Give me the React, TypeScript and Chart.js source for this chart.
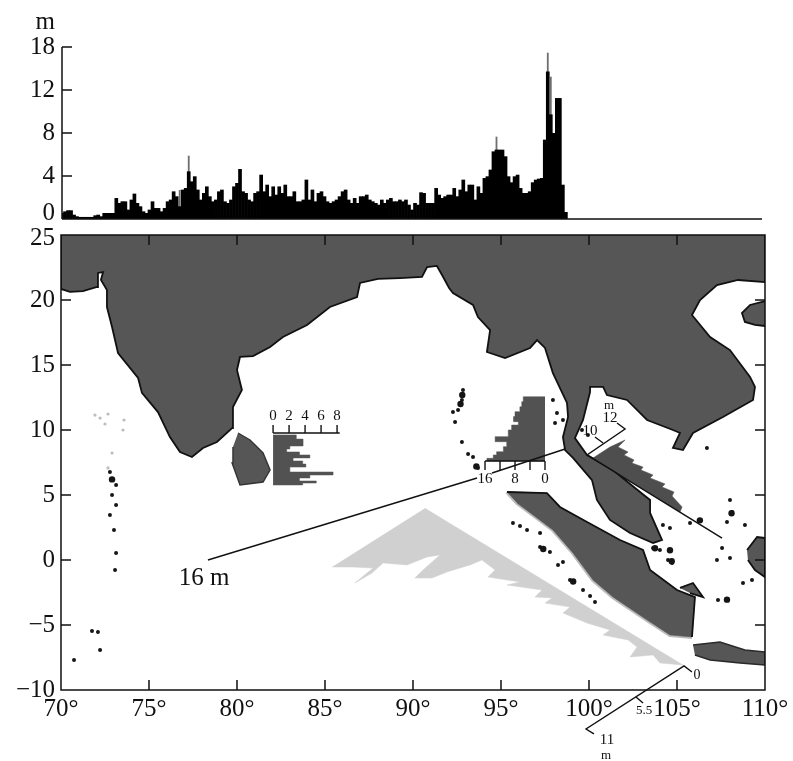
import React, { useEffect, useRef } from "react";
import { Chart, registerables } from "chart.js";

Chart.register(...registerables);

const FONT = "'Liberation Serif'";
const INK = "#111111";
const LAND = "#565656";

// ---- top profile: wave height along the longitude (tick 16 on the value scale is labelled 18)
const profileHeights = [
  0.53, 0.68, 0.78, 0.78, 0.37, 0.22, 0.16, 0.16, 0.16, 0.16,
  0.16, 0.31, 0.37, 0.22, 0.53, 0.53, 0.53, 0.53, 1.92, 1.46,
  1.61, 1.61, 0.84, 1.77, 2.33, 1.46, 1.15, 0.68, 0.53, 0.84,
  1.61, 0.99, 0.99, 0.68, 0.99, 1.61, 1.77, 2.54, 2.08, 1.15,
  2.7, 2.85, 4.4, 3.47, 3.94, 2.7, 1.77, 2.39, 3.0, 2.08,
  1.61, 1.77, 2.54, 2.7, 1.61, 1.46, 1.77, 3.0, 3.32, 4.62,
  2.54, 2.39, 1.77, 1.61, 2.39, 2.54, 4.09, 2.54, 3.16, 2.08,
  3.0, 2.23, 3.0, 2.39, 3.16, 2.08, 2.08, 2.54, 1.61, 1.61,
  1.77, 3.63, 1.77, 2.7, 1.61, 2.39, 2.54, 2.08, 1.61, 1.46,
  1.61, 1.77, 2.08, 2.54, 2.7, 1.77, 1.46, 1.92, 1.46, 2.08,
  2.08, 2.23, 1.77, 1.61, 1.46, 1.3, 1.77, 1.46, 1.77, 1.92,
  1.61, 1.61, 1.77,
  1.61, 1.77, 1.3, 0.84, 1.46, 1.3, 2.45, 2.39, 1.46, 1.46,
  1.46, 2.85, 2.23, 1.92, 2.08, 2.23, 2.23, 2.85, 2.08, 2.7,
  3.63, 2.54, 3.16, 3.16, 1.77, 3.0, 2.39, 3.78, 3.94, 4.56,
  6.26, 6.42, 6.42, 6.42, 5.8, 3.94, 3.38, 3.94, 4.09, 2.85,
  2.39, 2.39, 2.54, 3.38, 3.63, 3.72, 3.78, 7.35, 13.7, 9.7,
  7.97, 11.22, 11.22, 3.16, 0.62,
];
const spikeIndex = [39, 42, 144, 161, 162];
const spikeHeights = [2.7, 5.89, 7.66, 15.47, 13.24];
const profileTickValues = [0, 4, 8, 12, 16];
const profileTickLabels = ["0", "4", "8", "12", "18"];
const PROFILE_BINS = 233;

// ---- map land masses (lon / lat)
const mainlandLon = [70, 70, 70.51, 71.25, 72.05, 72.1, 72.39, 72.27, 72.61, 72.61, 72.9, 73.24, 74.38, 74.6, 75.51, 76.19, 76.76, 77.44, 78.07, 78.86, 79.72, 79.77, 80.28, 80.0, 80.17, 80.91, 81.88, 82.61, 83.98, 85.28, 86.82, 86.99, 88.01, 89.26, 90.51, 90.8, 91.36, 91.65, 92.05, 92.27, 93.41, 93.69, 94.38, 94.2, 95.23, 96.65, 97.05, 97.5, 97.95, 98.75, 98.81, 98.52, 98.64, 99.09, 100.17, 100.45, 101.19, 102.33, 103.64, 104.15, 103.47, 103.47, 102.9, 101.36, 99.89, 99.2, 99.66, 100.06, 100.06, 100.8, 101.02, 102.16, 103.3, 104.77, 105.17, 104.77, 105.34, 105.91, 107.61, 109.32, 109.43, 109.15, 108.01, 106.88, 105.85, 106.31, 107.27, 108.47, 110, 110];
const mainlandLat = [25, 20.85, 20.62, 20.69, 21.0, 22.08, 22.15, 21.54, 20.77, 19.46, 17.92, 15.92, 14.0, 12.85, 11.38, 9.46, 8.31, 7.92, 8.62, 9.08, 10.15, 11.77, 13.08, 14.62, 15.62, 15.69, 16.38, 17.15, 18.08, 19.46, 20.23, 21.31, 21.62, 21.69, 21.77, 22.54, 22.62, 21.92, 20.92, 20.54, 19.62, 18.69, 17.69, 16.0, 15.54, 16.31, 16.92, 16.31, 14.38, 12.08, 11.0, 9.46, 8.46, 7.85, 6.15, 4.62, 3.08, 2.08, 1.31, 1.54, 3.62, 4.62, 5.23, 6.92, 8.08, 9.38, 10.77, 12.92, 13.31, 13.31, 12.69, 12.31, 10.77, 10.0, 9.77, 8.62, 8.46, 9.77, 11.0, 12.31, 13.31, 14.08, 16.15, 17.15, 18.85, 20.0, 21.15, 21.54, 21.38, 25];
const sumatraLon = [95.34, 97.61, 98.35, 99.89, 101.76, 103.07, 103.47, 105.0, 106.02, 105.85, 104.6, 103.3, 101.36, 100.23, 99.09, 97.95, 96.82, 95.91];
const sumatraLat = [5.23, 5.15, 4.08, 2.92, 1.54, 0.77, -0.77, -2.31, -2.85, -5.92, -5.77, -4.62, -2.85, -1.54, 0.54, 2.31, 3.46, 4.38];
const SUMATRA_NE_END = 10;
const javaLon = [105.91, 107.44, 108.86, 110, 110, 108.58, 106.88, 106.02];
const javaLat = [-6.54, -6.31, -6.92, -7.08, -8.08, -7.92, -7.69, -7.31];
const sriLankaLon = [80.06, 80.74, 81.48, 81.88, 81.48, 80.17, 79.72, 79.77];
const sriLankaLat = [9.77, 9.23, 8.23, 6.92, 6.0, 5.77, 7.46, 8.69];
const hainanLon = [110, 109.15, 108.69, 108.86, 109.43, 110];
const hainanLat = [19.92, 19.62, 19.0, 18.31, 18.08, 18.0];
const borneoLon = [108.98, 109.55, 110, 110, 109.43, 109.03];
const borneoLat = [0.77, 1.77, 1.69, -1.31, -0.77, 0];
const bangkaLon = [105.17, 105.91, 106.48, 105.74];
const bangkaLat = [-2.15, -1.77, -2.85, -2.54];

// ---- small islands
const islandLon = [92.84, 92.78, 92.56, 92.27, 92.39, 92.78, 93.13, 93.41, 93.69, 97.95, 98.18, 98.07, 98.52, 99.6, 99.94, 106.7, 108.13, 108.01, 106.31, 105.74, 107.84, 108.86, 107.56, 107.27, 108.01, 104.2, 104.6, 103.64, 104.03, 104.6, 104.49, 104.72, 107.84, 107.33, 108.75, 109.26, 95.68, 96.08, 96.48, 97.22, 97.78, 97.22, 98.52, 98.24, 98.92, 99.66, 100.06, 100.34, 72.78, 72.9, 73.13, 72.9, 73.13, 72.78, 73.01, 73.13, 73.07, 71.76, 72.1, 70.74, 72.22];
const islandLat = [13.08, 12.31, 11.54, 11.38, 10.62, 9.08, 8.15, 7.92, 7.08, 12.31, 11.31, 10.54, 10.77, 10.0, 9.62, 8.62, 3.69, 4.62, 3.08, 2.85, 2.92, 2.69, 0.92, 0, 0.15, 2.69, 2.46, 0.92, 0.77, 0.77, 0, -0.23, -3.08, -3.08, -1.77, -1.54, 2.85, 2.62, 2.31, 1.0, 0.62, 2.08, -0.15, -0.38, -1.54, -2.31, -2.77, -3.23, 6.77, 6.15, 5.77, 5.0, 4.23, 3.46, 2.31, 0.54, -0.77, -5.46, -5.54, -7.7, -6.92];
const largeIslandLon = [92.8, 92.7, 93.6, 103.75, 104.6, 104.7, 107.84, 106.3, 108.1, 97.4, 99.1, 72.9];
const largeIslandLat = [12.7, 12.0, 7.2, 0.9, 0.75, -0.1, -3.05, 3.05, 3.6, 0.85, -1.65, 6.2];
const faintIslandLon = [71.93, 72.22, 72.67, 73.58, 72.5, 73.52, 72.9, 72.67];
const faintIslandLat = [11.15, 10.92, 11.23, 10.77, 10.46, 10.0, 8.23, 7.08];

// ---- projected profiles on the map
const oceanShadowLon = [90.68, 105.34, 104.03, 103.64, 102.33, 102.73, 102.22, 100.8, 101.19, 99.89, 98.52, 98.92, 97.5, 97.9, 96.93, 97.33, 95.34, 96.08, 94.26, 94.66, 93.92, 93.24, 91.93, 91.08, 90.11, 90.57, 91.53, 90.8, 89.66, 88.3, 87.67, 86.7, 87.73, 86.59, 85.4];
const oceanShadowLat = [3.98, -8.08, -7.92, -7.31, -7.46, -6.69, -6.15, -5.77, -5.38, -4.85, -4.08, -3.62, -3.31, -2.92, -2.85, -2.31, -1.92, -1.69, -1.31, -0.77, 0.0, -0.38, -0.92, -1.38, -1.38, -0.77, 0.38, 0.23, -0.38, -0.23, -1.0, -1.77, -0.62, -0.54, -0.54];
const gulfLon = [100.23, 101.19, 102.05, 101.65, 102.22, 101.99, 102.56, 102.44, 103.07, 102.95, 103.64, 103.47, 104.32, 104.15, 104.83, 104.72, 105.29, 105.17];
const gulfLat = [7.85, 8.69, 9.23, 8.69, 8.31, 8.08, 7.69, 7.46, 7.15, 6.92, 6.54, 6.31, 5.85, 5.62, 5.23, 4.92, 4.08, 3.69];

const sriInsetLat = [9.62, 9.3, 8.77, 8.54, 8.31, 8.08, 7.85, 7.62, 7.38, 7.15, 6.77, 6.54, 6.31, 6.08, 5.92, 5.77];
const sriInsetHeight = [2.9, 3.75, 2.1, 1.7, 3.3, 4.6, 2.5, 3.7, 4.1, 2.1, 7.5, 4.6, 3.3, 5.4, 3.7, 1.7];
const sriInsetTicks = [0, 2, 4, 6, 8];

const malaccaInsetLat = [12.56, 12.18, 11.79, 11.41, 11.03, 10.64, 10.38, 10.0, 9.49, 9.1, 8.72, 8.33, 8.08, 7.82];
const malaccaInsetHeight = [5.8, 6.2, 6.7, 8.0, 8.4, 7.1, 8.9, 9.8, 13.3, 10.2, 11.1, 12.9, 13.8, 15.5];
const malaccaInsetTicks = [0, 4, 8, 12, 16];
const malaccaInsetLabels = [16, 8, 0];

// ---- leader lines and oblique scales (lon, lat)
const leaderOneLon = [78.35, 93.64];
const leaderOneLat = [0.0, 6.31];
const leaderTwoLon = [94.49, 98.64];
const leaderTwoLat = [6.69, 8.54];
const gulfAxisLon = [107.56, 99.89, 102.05, 101.59];
const gulfAxisLat = [1.69, 8.08, 10.08, 10.54];
const gulfTickLon = [100.8, 100.34];
const gulfTickLat = [9.0, 9.46];
const shadowAxisLon = [105.85, 105.4, 99.83, 100.28];
const shadowAxisLat = [-8.62, -8.15, -13.0, -13.38];
const shadowTickLon = [102.67, 103.07];
const shadowTickLat = [-10.54, -11.0];

// ---- map annotations
const noteTexts = ["16 m", "m", "12", "10", "0", "5.5", "11", "m"];
const noteLon = [78.13, 101.14, 101.2, 100.06, 106.14, 103.13, 101.02, 100.97];
const noteLat = [-1.39, 11.85, 10.92, 9.93, -8.85, -11.62, -13.85, -15.08];
const noteSizes = [25, 13, 15, 15, 14, 13, 15, 13];

// Placement of the inset scales on the map
const SRI_BASE_LON = 82.05;
const SRI_LON_PER_M = 0.4545;
const SRI_AXIS_LAT = 9.77;
const SRI_TICK_LAT = 10.38;
const SRI_LABEL_LAT = 11.08;
const MAL_BASE_LON = 97.5;
const MAL_LON_PER_M = 0.213;
const MAL_AXIS_LAT = 7.62;
const MAL_TICK_LAT = 6.92;
const MAL_LABEL_LAT = 6.23;

const zip = (xs: number[], ys: number[]) => xs.map((x, i) => ({ x, y: ys[i] }));

const land = (xs: number[], ys: number[], stroke = "#111111", width = 1.8) => ({
  type: "scatter" as const,
  data: zip(xs, ys),
  showLine: true,
  fill: "shape",
  backgroundColor: LAND,
  borderColor: stroke,
  borderWidth: width,
  pointRadius: 0,
  tension: 0,
});

const shape = (pts: { x: number; y: number }[], color: string, stepped: any = false) => ({
  type: "scatter" as const,
  data: pts,
  showLine: true,
  fill: "shape",
  backgroundColor: color,
  borderColor: color,
  borderWidth: 0.5,
  pointRadius: 0,
  tension: 0,
  stepped,
});

const wire = (pts: { x: number; y: number }[], color = INK, width = 1.4) => ({
  type: "scatter" as const,
  data: pts,
  showLine: true,
  fill: false,
  borderColor: color,
  borderWidth: width,
  pointRadius: 0,
  tension: 0,
  clip: false,
});

const dots = (xs: number[], ys: number[], color: string, r: number) => ({
  type: "scatter" as const,
  data: zip(xs, ys),
  showLine: false,
  pointRadius: r,
  pointBorderWidth: 0,
  pointBackgroundColor: color,
  clip: false,
});

const insideTicks = {
  id: "insideTicks",
  afterDatasetsDraw(chart: any, _args: any, opts: any) {
    const { ctx, chartArea: a, scales } = chart;
    const len = 10;
    ctx.save();
    ctx.strokeStyle = INK;
    ctx.lineWidth = 1.5;
    ctx.beginPath();
    if (opts.frame) {
      ctx.rect(a.left, a.top, a.right - a.left, a.bottom - a.top);
      for (const t of scales.x.ticks) {
        const p = scales.x.getPixelForValue(t.value);
        ctx.moveTo(p, a.top);
        ctx.lineTo(p, a.top + len);
        ctx.moveTo(p, a.bottom);
        ctx.lineTo(p, a.bottom - len);
      }
      for (const t of scales.y.ticks) {
        const p = scales.y.getPixelForValue(t.value);
        ctx.moveTo(a.left, p);
        ctx.lineTo(a.left + len, p);
        ctx.moveTo(a.right, p);
        ctx.lineTo(a.right - len, p);
      }
    } else {
      ctx.moveTo(a.left, a.top);
      ctx.lineTo(a.left, a.bottom);
      ctx.moveTo(a.left, a.bottom);
      ctx.lineTo(a.right, a.bottom);
      for (const t of scales.y.ticks) {
        const p = scales.y.getPixelForValue(t.value);
        ctx.moveTo(a.left, p);
        ctx.lineTo(a.left + len, p);
      }
    }
    ctx.stroke();
    ctx.restore();
  },
};

const mapNotes = {
  id: "mapNotes",
  afterDatasetsDraw(chart: any) {
    const { ctx, scales } = chart;
    const put = (text: string, lon: number, lat: number, size: number) => {
      ctx.font = `${size}px ${FONT}`;
      ctx.fillText(text, scales.x.getPixelForValue(lon), scales.y.getPixelForValue(lat));
    };
    ctx.save();
    ctx.fillStyle = INK;
    ctx.textAlign = "center";
    ctx.textBaseline = "middle";
    noteTexts.forEach((t, i) => put(t, noteLon[i], noteLat[i], noteSizes[i]));
    sriInsetTicks.forEach((v) => put(String(v), SRI_BASE_LON + v * SRI_LON_PER_M, SRI_LABEL_LAT, 15));
    malaccaInsetLabels.forEach((v) => put(String(v), MAL_BASE_LON - v * MAL_LON_PER_M, MAL_LABEL_LAT, 15));
    ctx.restore();
  },
};

const profileLabel = {
  id: "profileLabel",
  afterDatasetsDraw(chart: any) {
    const { ctx, scales } = chart;
    ctx.save();
    ctx.fillStyle = INK;
    ctx.font = `25px ${FONT}`;
    ctx.textAlign = "right";
    ctx.textBaseline = "middle";
    ctx.fillText("m", scales.x.left - 7, 22);
    ctx.restore();
  },
};

export default function App() {
  const topRef = useRef<HTMLCanvasElement>(null);
  const mapRef = useRef<HTMLCanvasElement>(null);

  useEffect(() => {
    const sriOutline = [
      { x: SRI_BASE_LON, y: sriInsetLat[0] },
      ...sriInsetLat.map((lat, i) => ({ x: SRI_BASE_LON + sriInsetHeight[i] * SRI_LON_PER_M, y: lat })),
      { x: SRI_BASE_LON, y: sriInsetLat[sriInsetLat.length - 1] },
    ];
    const malOutline = [
      { x: MAL_BASE_LON, y: malaccaInsetLat[0] },
      ...malaccaInsetLat.map((lat, i) => ({ x: MAL_BASE_LON - malaccaInsetHeight[i] * MAL_LON_PER_M, y: lat })),
      { x: MAL_BASE_LON, y: MAL_AXIS_LAT },
    ];
    const sriAxis = sriInsetTicks.map((v) => [
      { x: SRI_BASE_LON + v * SRI_LON_PER_M, y: SRI_TICK_LAT },
      { x: SRI_BASE_LON + v * SRI_LON_PER_M, y: SRI_AXIS_LAT },
    ]);
    const malAxis = malaccaInsetTicks.map((v) => [
      { x: MAL_BASE_LON - v * MAL_LON_PER_M, y: MAL_TICK_LAT },
      { x: MAL_BASE_LON - v * MAL_LON_PER_M, y: MAL_AXIS_LAT },
    ]);
    const sumatraPts = zip(sumatraLon, sumatraLat);
    const sumatraNE = sumatraPts.slice(0, SUMATRA_NE_END);
    const sumatraSW = [...sumatraPts.slice(SUMATRA_NE_END - 1), sumatraPts[0]];

    const spikes = profileHeights.map((_, i) => {
      const k = spikeIndex.indexOf(i);
      return k >= 0 ? spikeHeights[k] : null;
    });
    const bins = Array.from({ length: PROFILE_BINS }, (_, i) => String(i));

    const tickFont = { family: FONT, size: 25 };

    const top = new Chart(topRef.current!, {
      type: "bar",
      data: {
        labels: bins,
        datasets: [
          { data: profileHeights, backgroundColor: "#000000", barPercentage: 1, categoryPercentage: 1, grouped: false, order: 1 },
          { data: spikes, backgroundColor: "#6e6e6e", barPercentage: 0.6, categoryPercentage: 1, grouped: false, order: 2 },
        ],
      } as any,
      options: {
        animation: false,
        responsive: false,
        layout: { padding: { top: 47, right: 31, bottom: 13, left: 0 } },
        plugins: { legend: { display: false }, tooltip: { enabled: false }, insideTicks: { frame: false } },
        scales: {
          x: { display: false, offset: false, grid: { display: false } },
          y: {
            min: 0,
            max: 16,
            afterBuildTicks: (s: any) => {
              s.ticks = profileTickValues.map((value) => ({ value }));
            },
            afterFit: (s: any) => {
              s.width = 62;
            },
            border: { display: false },
            grid: { display: false, drawTicks: false },
            ticks: {
              color: INK,
              // the lowest label sits a little above its tick, as in the source figure
              font: (c: any) => (c.index === 0 ? { ...tickFont, lineHeight: 0.48 } : tickFont),
              padding: 7,
              callback: (v: any) => {
                const label = profileTickLabels[profileTickValues.indexOf(Number(v))];
                return Number(v) === 0 ? [label, ""] : label;
              },
            },
          },
        },
      } as any,
      plugins: [insideTicks, profileLabel],
    });

    const map = new Chart(mapRef.current!, {
      type: "scatter",
      data: {
        datasets: [
          wire(zip(leaderOneLon, leaderOneLat)),
          wire(zip(leaderTwoLon, leaderTwoLat)),
          wire(zip(gulfAxisLon, gulfAxisLat)),
          wire(zip(gulfTickLon, gulfTickLat)),
          wire(zip(shadowAxisLon, shadowAxisLat)),
          wire(zip(shadowTickLon, shadowTickLat)),
          wire([
            { x: SRI_BASE_LON, y: SRI_AXIS_LAT },
            { x: SRI_BASE_LON + sriInsetTicks[sriInsetTicks.length - 1] * SRI_LON_PER_M + 0.15, y: SRI_AXIS_LAT },
          ]),
          ...sriAxis.map((p) => wire(p)),
          wire([
            { x: MAL_BASE_LON, y: MAL_AXIS_LAT },
            { x: MAL_BASE_LON - malaccaInsetTicks[malaccaInsetTicks.length - 1] * MAL_LON_PER_M, y: MAL_AXIS_LAT },
          ]),
          ...malAxis.map((p) => wire(p)),
          shape(sriOutline, "#525252", "after"),
          shape(malOutline, "#525252", "after"),
          shape(zip(gulfLon, gulfLat), "#4e4e4e"),
          dots(largeIslandLon, largeIslandLat, "#151515", 3.2),
          dots(islandLon, islandLat, "#151515", 2),
          dots(faintIslandLon, faintIslandLat, "#bdbdbd", 1.6),
          land(bangkaLon, bangkaLat),
          wire(sumatraNE, "#111111", 1.8),
          land(sumatraLon, sumatraLat, LAND, 0.5),
          wire(sumatraSW, "#bcbcbc", 4),
          land(javaLon, javaLat, "#2a2a2a", 1.4),
          land(sriLankaLon, sriLankaLat, "#333333", 1.4),
          land(hainanLon, hainanLat),
          land(borneoLon, borneoLat),
          land(mainlandLon, mainlandLat),
          shape(zip(oceanShadowLon, oceanShadowLat), "#d0d0d0"),
        ],
      } as any,
      options: {
        animation: false,
        responsive: false,
        layout: { padding: { top: 35, right: 28, bottom: 0, left: 0 } },
        plugins: { legend: { display: false }, tooltip: { enabled: false }, insideTicks: { frame: true } },
        scales: {
          x: {
            type: "linear",
            min: 70,
            max: 110,
            afterFit: (s: any) => {
              s.height = 71;
            },
            border: { display: false },
            grid: { display: false, drawTicks: false },
            ticks: {
              stepSize: 5,
              color: INK,
              font: tickFont,
              padding: 4,
              maxRotation: 0,
              autoSkip: false,
              callback: (v: any) => `${v}°`,
            },
          },
          y: {
            type: "linear",
            min: -10,
            max: 25,
            afterFit: (s: any) => {
              s.width = 61;
            },
            border: { display: false },
            grid: { display: false, drawTicks: false },
            ticks: {
              stepSize: 5,
              color: INK,
              // the uppermost label sits a little below its tick, as in the source figure
              font: (c: any) => (c.tick && c.tick.value === 25 ? { ...tickFont, lineHeight: 0.24 } : tickFont),
              padding: 6,
              callback: (v: any) => {
                const n = Number(v);
                if (n === 25) return ["", "25"];
                return n < 0 ? `\u2212${Math.abs(n)}` : `${n}`;
              },
            },
          },
        },
      } as any,
      plugins: [insideTicks, mapNotes],
    });

    return () => {
      top.destroy();
      map.destroy();
    };
  }, []);

  return (
    <div>
      <canvas ref={topRef} width={793} height={238} style={{ position: "absolute", left: 0, top: 0 }} />
      <canvas ref={mapRef} width={793} height={561} style={{ position: "absolute", left: 0, top: 200 }} />
    </div>
  );
}
